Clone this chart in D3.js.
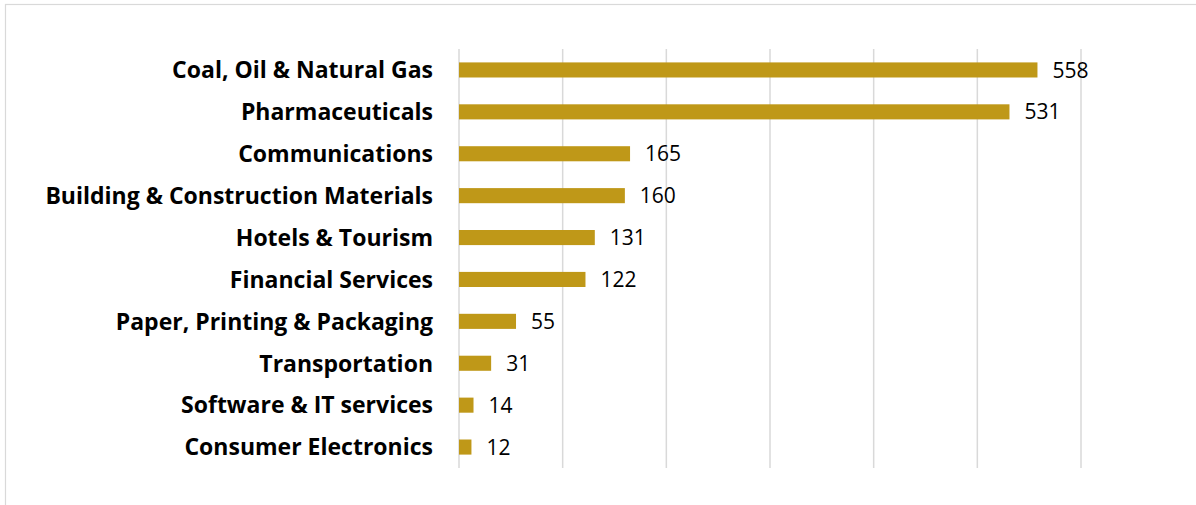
<!DOCTYPE html>
<html>
<head>
<meta charset="utf-8">
<script src="https://cdn.jsdelivr.net/npm/d3@7"></script>
<style>
  html, body { margin: 0; padding: 0; background: #fff; }
  svg { display: block; }
</style>
</head>
<body>
<svg id="chart" width="1196" height="505"></svg>
<script>
const categories = [
  "Coal, Oil & Natural Gas",
  "Pharmaceuticals",
  "Communications",
  "Building & Construction Materials",
  "Hotels & Tourism",
  "Financial Services",
  "Paper, Printing & Packaging",
  "Transportation",
  "Software & IT services",
  "Consumer Electronics"
];
const values = [558, 531, 165, 160, 131, 122, 55, 31, 14, 12];
const tickValues = [0, 100, 200, 300, 400, 500, 600];

const svg = d3.select("#chart");
const fontFamily = "'Open Sans', Lato, sans-serif";

// outer chart frame
svg.append("rect")
  .attr("x", 5.5).attr("y", 4.5)
  .attr("width", 1200).attr("height", 510)
  .attr("fill", "#fff")
  .attr("stroke", "#d9d9d9")
  .attr("stroke-width", 1.2);

const plot = { left: 459, right: 1081, top: 49, bottom: 468 };

const x = d3.scaleLinear().domain([0, 600]).range([plot.left, plot.right]);
const y = d3.scaleBand().domain(categories).range([plot.top, plot.bottom]).paddingInner(0.64).paddingOuter(0.32);

// vertical gridlines
svg.append("g")
  .selectAll("line")
  .data(tickValues)
  .join("line")
  .attr("x1", d => x(d)).attr("x2", d => x(d))
  .attr("y1", plot.top).attr("y2", plot.bottom)
  .attr("stroke", "#d9d9d9")
  .attr("stroke-width", 1.5);

// bars
svg.append("g")
  .selectAll("rect")
  .data(values)
  .join("rect")
  .attr("x", x(0))
  .attr("y", (d, i) => y(categories[i]))
  .attr("width", d => x(d) - x(0))
  .attr("height", y.bandwidth())
  .attr("fill", "#BF9818");

// value labels
svg.append("g")
  .selectAll("text")
  .data(values)
  .join("text")
  .attr("x", d => x(d) + 15)
  .attr("y", (d, i) => y(categories[i]) + y.bandwidth() / 2)
  .attr("dy", "0.36em")
  .attr("font-family", fontFamily)
  .attr("font-size", 21)
  .attr("fill", "#000")
  .text(d => d);

// category axis
const yAxis = d3.axisLeft(y).tickSize(0).tickPadding(26);
const gy = svg.append("g").attr("transform", `translate(${plot.left},0)`).call(yAxis);
gy.select(".domain").remove();
gy.selectAll("text")
  .attr("dy", "0.36em")
  .attr("font-family", fontFamily)
  .attr("font-size", 23)
  .attr("font-weight", "bold")
  .attr("fill", "#000");
</script>
</body>
</html>
